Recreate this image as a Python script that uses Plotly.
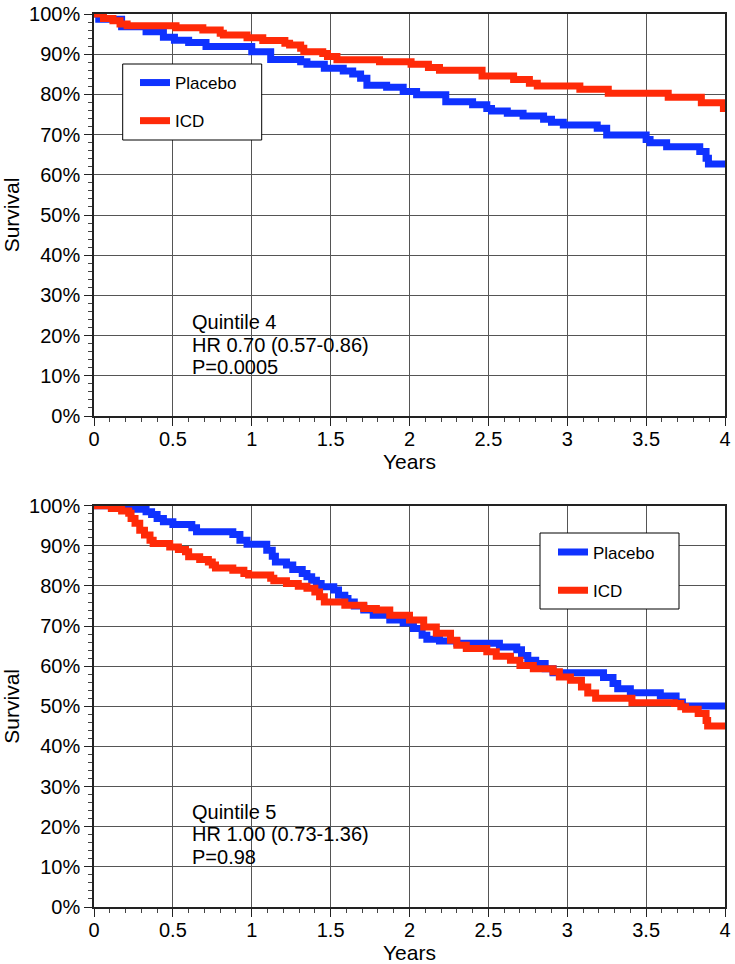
import plotly.graph_objects as go

# ---------------- data ----------------
q4_placebo_t = [0, 0.03, 0.175, 0.33, 0.44, 0.51, 0.60, 0.71, 1.0, 1.12, 1.31, 1.35, 1.46,
                1.58, 1.64, 1.69, 1.73, 1.855, 1.96, 2.045, 2.23, 2.40, 2.49, 2.52, 2.62,
                2.72, 2.85, 2.90, 2.975, 3.19, 3.25, 3.50, 3.525, 3.63, 3.84, 3.88, 3.895, 4.0]
q4_placebo_s = [100, 98.7, 96.8, 95.6, 94.2, 93.5, 92.9, 91.9, 90.6, 88.7, 88.1, 87.5, 86.5,
                85.8, 85.1, 84.0, 82.3, 81.8, 80.7, 79.9, 78.2, 77.4, 76.5, 75.9, 75.3,
                74.6, 73.8, 73.1, 72.4, 71.6, 69.9, 68.8, 68.0, 67.0, 65.8, 64.1, 62.7, 62.7]

q4_icd_t = [0, 0.06, 0.12, 0.165, 0.21, 0.52, 0.69, 0.80, 0.82, 0.97, 1.07, 1.21, 1.24, 1.31,
            1.33, 1.45, 1.48, 1.54, 1.81, 2.01, 2.12, 2.19, 2.46, 2.66, 2.76, 2.81, 3.08,
            3.26, 3.64, 3.85, 3.99, 4.0]
q4_icd_s = [100, 98.9, 98.3, 97.5, 97.1, 96.6, 96.0, 95.2, 94.8, 94.1, 93.4, 92.7, 92.3, 91.5,
            90.6, 90.2, 89.4, 88.6, 88.1, 87.5, 86.7, 86.0, 84.6, 83.7, 82.8, 82.1, 81.3,
            80.3, 79.3, 77.9, 76.5, 76.5]

q5_placebo_t = [0, 0.23, 0.33, 0.365, 0.40, 0.44, 0.50, 0.62, 0.65, 0.88, 0.925, 0.97, 1.095,
                1.13, 1.15, 1.22, 1.26, 1.32, 1.35, 1.38, 1.41, 1.44, 1.52, 1.55, 1.59, 1.61,
                1.65, 1.71, 1.77, 1.875, 1.96, 2.025, 2.08, 2.11, 2.19, 2.30, 2.57, 2.68, 2.71,
                2.75, 2.80, 2.86, 2.91, 3.23, 3.29, 3.32, 3.40, 3.59, 3.69, 3.73, 4.0]
q5_placebo_s = [100, 99.1, 98.5, 97.8, 96.8, 96.0, 95.3, 94.5, 93.5, 92.8, 91.4, 90.4, 88.9,
                87.4, 86.0, 85.2, 84.1, 83.1, 82.3, 81.4, 80.6, 79.8, 79.0, 77.7, 76.9, 76.0,
                75.0, 74.0, 72.7, 71.5, 70.8, 69.4, 67.7, 66.7, 66.3, 65.7, 64.8, 64.1, 62.7,
                61.5, 60.7, 59.4, 58.4, 57.2, 55.7, 54.4, 53.4, 52.6, 51.1, 50.1, 50.1]

q5_icd_t = [0, 0.11, 0.175, 0.22, 0.235, 0.26, 0.29, 0.32, 0.355, 0.375, 0.48, 0.535, 0.58,
            0.60, 0.67, 0.725, 0.75, 0.77, 0.88, 0.95, 0.98, 1.12, 1.14, 1.22, 1.295, 1.35,
            1.40, 1.43, 1.46, 1.59, 1.71, 1.79, 1.875, 2.0, 2.09, 2.17, 2.26, 2.30, 2.36,
            2.49, 2.55, 2.64, 2.70, 2.785, 2.91, 2.95, 3.02, 3.09, 3.13, 3.18, 3.41, 3.68,
            3.72, 3.75, 3.83, 3.88, 3.89, 4.0]
q5_icd_s = [100, 99.3, 98.7, 98.1, 96.8, 95.6, 93.9, 92.7, 91.4, 90.6, 89.7, 89.1, 88.5,
            87.3, 86.6, 86.0, 85.2, 84.5, 83.9, 83.1, 82.7, 81.9, 81.3, 80.6, 79.9, 79.4,
            78.5, 77.3, 76.0, 75.2, 74.4, 74.0, 72.7, 71.5, 69.8, 68.2, 66.5, 65.2, 64.4,
            63.6, 62.5, 61.5, 60.2, 59.4, 58.6, 57.3, 56.5, 54.8, 53.3, 52.0, 50.9, 50.7,
            49.9, 49.3, 48.2, 46.5, 45.1, 45.1]

series_names = ["Placebo", "ICD"]
y_tickvals = list(range(0, 101, 10))
y_ticktext = [f"{v}%" for v in y_tickvals]
x_tickvals = [0, 0.5, 1, 1.5, 2, 2.5, 3, 3.5, 4]
x_ticktext = ["0", "0.5", "1", "1.5", "2", "2.5", "3", "3.5", "4"]

q4_text = ["Quintile 4", "HR 0.70 (0.57-0.86)", "P=0.0005"]
q5_text = ["Quintile 5", "HR 1.00 (0.73-1.36)", "P=0.98"]

for a, b in [(q4_placebo_t, q4_placebo_s), (q4_icd_t, q4_icd_s),
             (q5_placebo_t, q5_placebo_s), (q5_icd_t, q5_icd_s)]:
    assert len(a) == len(b), (len(a), len(b))

# ---------------- styling ----------------
BLUE = "#0f32ff"
RED = "#ff2a08"
FONT = "Liberation Sans, Arial, Helvetica, sans-serif"
LW = 7
W, H = 735, 964
L, R, T, B = 94, 10, 14, 57
pw = W - L - R
ph = H - T - B

def px_x(p):  # pixel x -> paper x
    return (p - L) / pw

def px_y(p):  # pixel y -> paper y
    return (H - B - p) / ph

fig = go.Figure()

def add_curve(t, s, name, color, xa, ya, legend):
    fig.add_trace(go.Scatter(
        x=t, y=s, mode="lines", name=name, line=dict(color=color, width=LW, shape="hv"),
        xaxis=xa, yaxis=ya, legend=legend, legendgroup=legend + name,
        hoverinfo="skip"))

add_curve(q4_placebo_t, q4_placebo_s, series_names[0], BLUE, "x", "y", "legend")
add_curve(q4_icd_t, q4_icd_s, series_names[1], RED, "x", "y", "legend")
add_curve(q5_placebo_t, q5_placebo_s, series_names[0], BLUE, "x2", "y2", "legend2")
add_curve(q5_icd_t, q5_icd_s, series_names[1], RED, "x2", "y2", "legend2")

def xaxis(anchor):
    return dict(
        range=[0, 4], anchor=anchor, tickvals=x_tickvals, ticktext=x_ticktext,
        showgrid=True, gridcolor="#555555", gridwidth=1,
        showline=True, linecolor="#222222", linewidth=1.5, mirror=True,
        ticks="outside", ticklen=8, tickcolor="#222222",
        minor=dict(dtick=0.1, tick0=0, ticks="outside", ticklen=4, tickcolor="#444444",
                   showgrid=False),
        tickfont=dict(size=20, color="black"), ticklabelstandoff=-4,
        title=dict(text="Years", font=dict(size=21, color="black"), standoff=1),
        zeroline=False, fixedrange=True, automargin=False)

def yaxis(anchor, domain):
    return dict(
        range=[0, 100], anchor=anchor, domain=domain, tickvals=y_tickvals, ticktext=y_ticktext,
        showgrid=True, gridcolor="#555555", gridwidth=1,
        showline=True, linecolor="#222222", linewidth=1.5, mirror=True,
        ticks="outside", ticklen=8, tickcolor="#222222",
        minor=dict(dtick=2, tick0=0, ticks="outside", ticklen=4, tickcolor="#444444",
                   showgrid=False),
        tickfont=dict(size=20, color="black"),
        title=dict(text="Survival", font=dict(size=21, color="black"), standoff=6),
        zeroline=False, fixedrange=True, automargin=False)

top_dom = [px_y(416), 1.0]
bot_dom = [0.0, px_y(505.7)]

legend_style = dict(
    bgcolor="rgba(0,0,0,0)", borderwidth=0,
    font=dict(size=17, color="black", family=FONT),
    traceorder="grouped", tracegroupgap=13, xanchor="left", yanchor="top",
    itemwidth=30)

fig.update_layout(
    width=W, height=H,
    margin=dict(l=L, r=R, t=T, b=B),
    paper_bgcolor="white", plot_bgcolor="white",
    font=dict(family=FONT, size=18, color="black"),
    xaxis=xaxis("y"), yaxis=yaxis("x", top_dom),
    xaxis2=xaxis("y2"), yaxis2=yaxis("x2", bot_dom),
    legend=dict(x=px_x(135), y=px_y(65), **legend_style),
    legend2=dict(x=px_x(553), y=px_y(534.5), **legend_style),
    showlegend=True,
)

# legend boxes
for (x0, y0, x1, y1) in [(122.7, 64, 261.7, 140), (540, 533, 679, 609)]:
    fig.add_shape(type="rect", xref="paper", yref="paper",
                  x0=px_x(x0), x1=px_x(x1), y0=px_y(y1), y1=px_y(y0),
                  fillcolor="white", line=dict(color="black", width=1), layer="above")

top_y = [23.4, 17.7, 12.2]
bot_y = [23.6, 18.1, 12.4]
for txt, yy in zip(q4_text, top_y):
    fig.add_annotation(x=0.61, y=yy, xref="x", yref="y", text=txt, showarrow=False,
                       xanchor="left", yanchor="middle", font=dict(size=20, color="black"))
for txt, yy in zip(q5_text, bot_y):
    fig.add_annotation(x=0.61, y=yy, xref="x2", yref="y2", text=txt, showarrow=False,
                       xanchor="left", yanchor="middle", font=dict(size=20, color="black"))

fig.write_html("out.html", config={"displayModeBar": False},
               post_script="document.body.style.margin='0px';document.body.style.overflow='hidden';")
